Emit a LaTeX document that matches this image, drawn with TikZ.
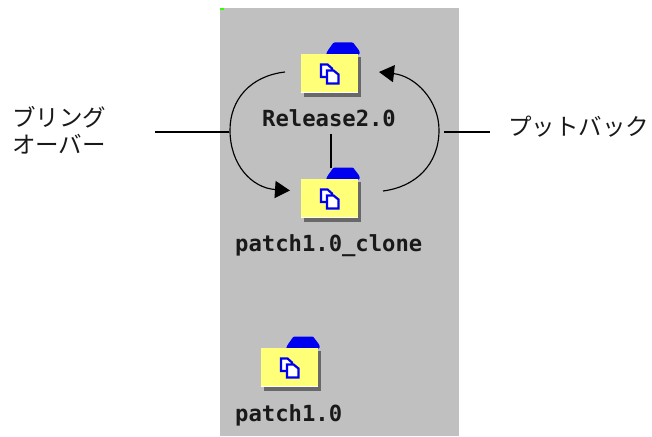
\documentclass[tikz,border=0pt]{standalone}
\usepackage{fontspec}
\usetikzlibrary{arrows.meta}
\newfontfamily\jpfont{Noto Sans CJK JP}
\newfontfamily\iconfont{DejaVu Sans Mono}
\definecolor{panelgray}{HTML}{C0C0C0}
\definecolor{folderyellow}{HTML}{FFFF78}
\definecolor{tabblue}{HTML}{0000F0}
\definecolor{shadowgray}{HTML}{686868}
\tikzset{
  x=1pt,y=-1pt,
  jplabel/.style={font=\jpfont\fontsize{23.5}{27}\selectfont,inner sep=0pt,anchor=west,align=left,text=black!90},
  iconlabel/.style={font=\iconfont\bfseries\fontsize{22.2}{24}\selectfont,inner sep=0pt,anchor=base west,text=black!90},
  conn/.style={draw=black,line width=1.15pt},
  arr/.style={conn,-{Triangle[length=15pt,width=17pt]}},
  foldershape/.style={draw=none,fill=folderyellow,minimum width=57pt,minimum height=39pt,inner sep=0pt,anchor=north west},
}
\newcommand{\folderat}[3]{%
  \begin{scope}[shift={(#1,#2)}]
    \fill[shadowgray] (3,3) rectangle (60,42.5);
    \fill[tabblue,rounded corners=1pt] (25.5,0.5) -- (27,-3) -- (33,-11.5) -- (52.5,-11.5) -- (59,-3) -- (59,0.5) -- cycle;
    \node[foldershape] (#3) at (0,0) {};
    \fill[white] (0,37.5) rectangle (57,39);
    \begin{scope}[draw=tabblue,line width=2.2pt,fill=white,line join=miter]
      \filldraw (20.5,10.5) -- (27,10.5) -- (31.5,14.5) -- (31.5,23) -- (20.5,23) -- cycle;
      \filldraw (26.5,16.5) -- (33,16.5) -- (38,20.5) -- (38,29.5) -- (26.5,29.5) -- cycle;
    \end{scope}
  \end{scope}}
\begin{document}
\begin{tikzpicture}
\useasboundingbox (0,0) rectangle (652,436);
\fill[white] (0,0) rectangle (652,436);
\fill[panelgray] (220,8) rectangle (459,436);
\fill[green!80!yellow] (220,8) rectangle (224,10);
\folderat{300.5}{54}{fa}
\folderat{300.5}{179}{fb}
\folderat{260.5}{348}{fc}
\node[iconlabel] (rel) at (262,126.5) {Release2.0};
\node[iconlabel] (clone) at (235,251.5) {patch1.0\_clone};
\node[iconlabel] (pat) at (235,421) {patch1.0};
\node[jplabel] (bring) at (12,130.5) {ブリング\\オーバー};
\node[jplabel] (put) at (508,127) {プットバック};
\coordinate (ls) at (285,72);
\coordinate (lm) at (230,130);
\coordinate (le) at (290,190.5);
\coordinate (rs) at (383,191);
\coordinate (rm) at (439,130);
\coordinate (re) at (379,72);
\coordinate (bl1) at (155,132);
\coordinate (bl2) at (229,132);
\coordinate (pl1) at (444,132);
\coordinate (pl2) at (490,132);
\coordinate (c1) at (331,134);
\coordinate (c2) at (331,168);
\draw[arr] (ls) .. controls (250,76) and (230,100) .. (lm) .. controls (230,165) and (252,188) .. (le);
\draw[arr] (rs) .. controls (415,187) and (439,165) .. (rm) .. controls (439,100) and (415,76) .. (re);
\draw[conn] (bl1) -- (bl2);
\draw[conn] (pl1) -- (pl2);
\draw[conn] (c1) -- (c2);
\end{tikzpicture}
\end{document}
